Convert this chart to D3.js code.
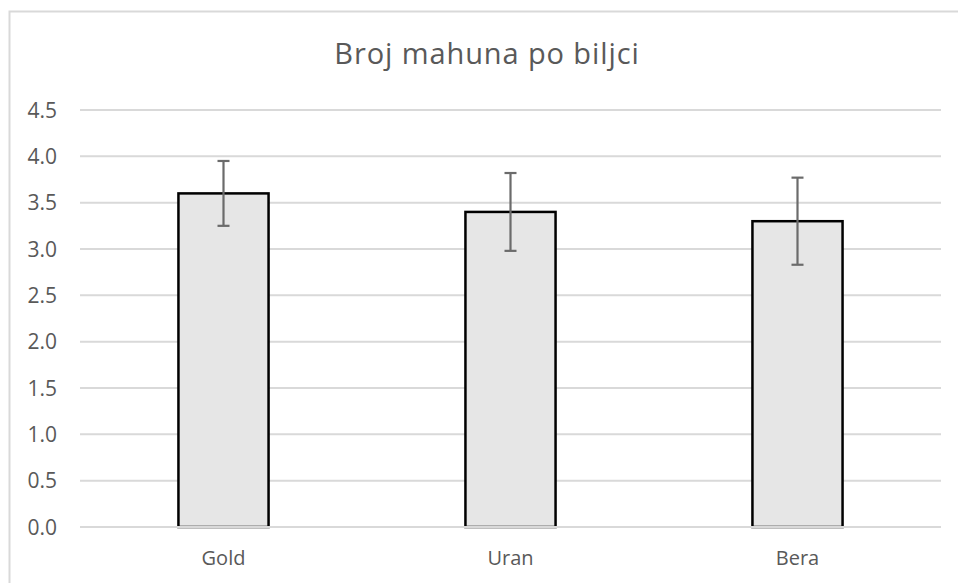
<!DOCTYPE html>
<html>
<head>
<meta charset="utf-8">
<script src="https://cdn.jsdelivr.net/npm/d3@7"></script>
<style>
  html, body { margin: 0; padding: 0; background: #fff; }
  svg { display: block; }
  text { font-family: "Open Sans", "Noto Sans", sans-serif; fill: #595959; }
</style>
</head>
<body>
<svg id="chart" width="958" height="583"></svg>
<script>
const title = "Broj mahuna po biljci";
const categories = ["Gold", "Uran", "Bera"];
const values = [3.6, 3.4, 3.3];
const errors = [0.35, 0.42, 0.47];
const yTicks = [0, 0.5, 1.0, 1.5, 2.0, 2.5, 3.0, 3.5, 4.0, 4.5];

const W = 958, H = 583;
const margin = { left: 80, right: 17, top: 110, bottom: 56 };
const svg = d3.select("#chart");

// chart border
svg.append("rect")
  .attr("x", 9.5).attr("y", 11.5)
  .attr("width", W + 20).attr("height", H + 20)
  .attr("fill", "none").attr("stroke", "#d9d9d9").attr("stroke-width", 2);

const x = d3.scaleBand().domain(categories)
  .range([margin.left, W - margin.right])
  .paddingInner(0.686).paddingOuter(0.343);
const y = d3.scaleLinear().domain([0, 4.5]).range([H - margin.bottom, margin.top]);

// gridlines
svg.append("g").selectAll("line").data(yTicks.filter(d => d > 0)).join("line")
  .attr("x1", margin.left).attr("x2", W - margin.right)
  .attr("y1", d => y(d)).attr("y2", d => y(d))
  .attr("stroke", "#d9d9d9").attr("stroke-width", 2);

// y tick labels
svg.append("g").selectAll("text").data(yTicks).join("text")
  .attr("x", margin.left - 23).attr("y", d => y(d)).attr("dy", "0.36em")
  .attr("text-anchor", "end").attr("font-size", 21)
  .text(d => d3.format(".1f")(d));

// bars
svg.append("g").selectAll("rect").data(values).join("rect")
  .attr("x", (d, i) => x(categories[i]))
  .attr("y", d => y(d))
  .attr("width", x.bandwidth())
  .attr("height", d => y(0) - y(d))
  .attr("fill", "#e6e6e6").attr("stroke", "#000").attr("stroke-width", 2.5);

// zero axis line
svg.append("line")
  .attr("x1", margin.left).attr("x2", W - margin.right)
  .attr("y1", y(0)).attr("y2", y(0))
  .attr("stroke", "#d9d9d9").attr("stroke-width", 2);

// error bars
const eg = svg.append("g").attr("stroke", "#6b6b6b").attr("stroke-width", 2.2);
values.forEach((v, i) => {
  const cx = x(categories[i]) + x.bandwidth() / 2;
  const top = y(v + errors[i]), bot = y(v - errors[i]);
  eg.append("line").attr("x1", cx).attr("x2", cx).attr("y1", top).attr("y2", bot);
  eg.append("line").attr("x1", cx - 6).attr("x2", cx + 6).attr("y1", top).attr("y2", top);
  eg.append("line").attr("x1", cx - 6).attr("x2", cx + 6).attr("y1", bot).attr("y2", bot);
});

// category labels
svg.append("g").selectAll("text").data(categories).join("text")
  .attr("x", d => x(d) + x.bandwidth() / 2).attr("y", 565)
  .attr("text-anchor", "middle").attr("font-size", 20)
  .text(d => d);

// title
svg.append("text")
  .attr("x", 487).attr("y", 64)
  .attr("text-anchor", "middle").attr("font-size", 29)
  .attr("letter-spacing", 0.9)
  .text(title);
</script>
</body>
</html>
